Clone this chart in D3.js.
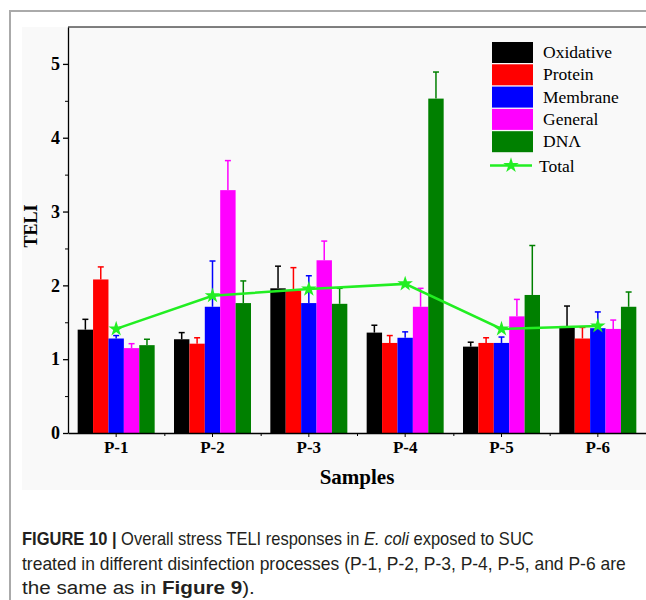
<!DOCTYPE html>
<html>
<head>
<meta charset="utf-8">
<script src="https://cdn.jsdelivr.net/npm/d3@7"></script>
<style>
  body { margin: 0; background: #fff; }
  svg { display: block; }
</style>
</head>
<body>
<svg></svg>
<script>
// values
const samples = ['P-1', 'P-2', 'P-3', 'P-4', 'P-5', 'P-6']
const seriesNames = ['Oxidative', 'Protein', 'Membrane', 'General', 'DNA']
const seriesColors = ['#000000', '#ff0000', '#0000ff', '#ff00ff', '#008000']

const oxidative = [1.40, 1.27, 1.96, 1.36, 1.17, 1.45]
const oxidativeErr = [0.14, 0.09, 0.30, 0.10, 0.06, 0.27]
const protein = [2.08, 1.21, 1.93, 1.22, 1.22, 1.28]
const proteinErr = [0.17, 0.08, 0.31, 0.10, 0.07, 0.15]
const membrane = [1.28, 1.71, 1.76, 1.29, 1.22, 1.42]
const membraneErr = [0.04, 0.62, 0.37, 0.08, 0.08, 0.22]
const general = [1.15, 3.29, 2.34, 1.71, 1.58, 1.41]
const generalErr = [0.06, 0.40, 0.26, 0.25, 0.23, 0.12]
const dna = [1.19, 1.76, 1.75, 4.53, 1.87, 1.71]
const dnaErr = [0.08, 0.30, 0.21, 0.36, 0.67, 0.20]
const total = [1.41, 1.86, 1.95, 2.02, 1.41, 1.45]

const yTicks = [0, 1, 2, 3, 4, 5]
const yMinorTicks = [0.5, 1.5, 2.5, 3.5, 4.5]

const width = 646
const height = 600

const svg = d3.select('svg').attr('width', width).attr('height', height)

const serifFont = '"Liberation Serif", "Times New Roman", serif'

// frame + image background
svg.append('rect')
  .attr('x', 22).attr('y', 27).attr('width', width - 22).attr('height', 463)
  .attr('fill', '#f9f9f9')
svg.append('path')
  .attr('d', `M10,${height} V11 H${width}`)
  .attr('fill', 'none').attr('stroke', '#aaaaaa').attr('stroke-width', 2)

const plot = { left: 68, right: 646, top: 27, bottom: 433 }

const xScale = d3.scaleBand()
  .domain(samples)
  .range([plot.left, plot.right])
  .padding(0)

const xIdx = d3.scaleLinear()
  .domain([-0.5, samples.length - 0.5])
  .range([plot.left, plot.right])

const groupWidth = 77
const inner = d3.scaleBand()
  .domain(seriesNames)
  .range([0, groupWidth])
  .padding(0)

const yScale = d3.scaleLinear()
  .domain([0, 5.5])
  .range([plot.bottom, plot.top])

const data = [
  { name: 'Oxidative', vals: oxidative, errs: oxidativeErr },
  { name: 'Protein', vals: protein, errs: proteinErr },
  { name: 'Membrane', vals: membrane, errs: membraneErr },
  { name: 'General', vals: general, errs: generalErr },
  { name: 'DNA', vals: dna, errs: dnaErr }
]

const bars = []
data.forEach((s, si) => {
  s.vals.forEach((v, i) => {
    bars.push({ sample: samples[i], series: s.name, color: seriesColors[si], v: v, e: s.errs[i] })
  })
})

const groupX = d => xScale(d.sample) + (xScale.bandwidth() - groupWidth) / 2 + inner(d.series)

// error bars (upper half only)
const errG = svg.append('g')
errG.selectAll('line.err')
  .data(bars)
  .enter().append('line')
    .attr('x1', d => groupX(d) + inner.bandwidth() / 2)
    .attr('x2', d => groupX(d) + inner.bandwidth() / 2)
    .attr('y1', d => yScale(d.v))
    .attr('y2', d => yScale(d.v + d.e))
    .attr('stroke', d => d.color)
    .attr('stroke-width', 1.5)
errG.selectAll('line.cap')
  .data(bars)
  .enter().append('line')
    .attr('x1', d => groupX(d) + inner.bandwidth() / 2 - 3)
    .attr('x2', d => groupX(d) + inner.bandwidth() / 2 + 3)
    .attr('y1', d => yScale(d.v + d.e))
    .attr('y2', d => yScale(d.v + d.e))
    .attr('stroke', d => d.color)
    .attr('stroke-width', 1.5)

svg.append('g').selectAll('rect')
  .data(bars)
  .enter().append('rect')
    .attr('x', d => groupX(d))
    .attr('y', d => yScale(d.v))
    .attr('width', inner.bandwidth())
    .attr('height', d => yScale(0) - yScale(d.v))
    .attr('fill', d => d.color)

// total line with stars
const totalPts = total.map((v, i) => ({ sample: samples[i], v: v }))
const line = d3.line()
  .x(d => xScale(d.sample) + xScale.bandwidth() / 2)
  .y(d => yScale(d.v))
svg.append('path')
  .datum(totalPts)
  .attr('d', line)
  .attr('fill', 'none')
  .attr('stroke', '#22ee22')
  .attr('stroke-width', 2.5)
svg.append('g').selectAll('path')
  .data(totalPts)
  .enter().append('path')
    .attr('d', d3.symbol(d3.symbolStar).size(75))
    .attr('transform', d => `translate(${xScale(d.sample) + xScale.bandwidth() / 2},${yScale(d.v)})`)
    .attr('fill', '#22ee22')

// axes
const yAxis = d3.axisLeft(yScale).tickValues(yTicks).tickFormat(d3.format('d'))
  .tickSize(5).tickSizeOuter(0).tickPadding(3)
const yAxisG = svg.append('g')
  .attr('transform', `translate(${plot.left},0)`)
  .call(yAxis)
yAxisG.selectAll('text')
  .attr('font-family', serifFont).attr('font-size', 18).attr('font-weight', 'bold').attr('fill', '#000')
yAxisG.select('.domain').attr('stroke-width', 1.3)
yAxisG.selectAll('.tick line').attr('stroke-width', 1.3)

svg.append('g')
  .attr('transform', `translate(${plot.left},0)`)
  .call(d3.axisLeft(yScale).tickValues(yMinorTicks).tickSize(3).tickFormat(''))
  .call(g => g.select('.domain').remove())

const xAxis = d3.axisBottom(xScale).tickSize(4).tickSizeOuter(0).tickPadding(4)
const xAxisG = svg.append('g')
  .attr('transform', `translate(0,${plot.bottom})`)
  .call(xAxis)
xAxisG.selectAll('text')
  .attr('font-family', serifFont).attr('font-size', 17).attr('font-weight', 'bold').attr('fill', '#000')
xAxisG.select('.domain').attr('stroke-width', 1.3)

svg.append('g')
  .attr('transform', `translate(0,${plot.bottom})`)
  .call(d3.axisBottom(xIdx).tickValues([0.5, 1.5, 2.5, 3.5, 4.5]).tickSize(3).tickFormat(''))
  .call(g => g.select('.domain').remove())

svg.append('line')
  .attr('x1', plot.left).attr('x2', plot.right)
  .attr('y1', plot.top).attr('y2', plot.top)
  .attr('stroke', '#000').attr('stroke-width', 1)

// axis titles
svg.append('text')
  .attr('transform', 'translate(37,226) rotate(-90)')
  .attr('text-anchor', 'middle')
  .attr('font-family', serifFont).attr('font-size', 18).attr('font-weight', 'bold')
  .text('TELI')

svg.append('text')
  .attr('x', (plot.left + plot.right) / 2).attr('y', 484)
  .attr('text-anchor', 'middle')
  .attr('font-family', serifFont).attr('font-size', 21).attr('font-weight', 'bold')
  .text('Samples')

// legend
const legend = svg.append('g').attr('transform', 'translate(492,42)')
const legRow = 22.3
legend.selectAll('rect')
  .data(seriesNames)
  .enter().append('rect')
    .attr('x', 0).attr('y', (d, i) => i * legRow)
    .attr('width', 41).attr('height', 21)
    .attr('fill', (d, i) => seriesColors[i])
legend.selectAll('text.lab')
  .data(seriesNames)
  .enter().append('text')
    .attr('x', 51).attr('y', (d, i) => i * legRow + 16)
    .attr('font-family', serifFont).attr('font-size', 17.5)
    .text(d => d === 'DNA' ? 'DNΛ' : d)
const totY = 5 * legRow + 12
legend.append('line')
  .attr('x1', -2).attr('x2', 40).attr('y1', totY).attr('y2', totY)
  .attr('stroke', '#22ee22').attr('stroke-width', 2.5)
legend.append('path')
  .attr('d', d3.symbol(d3.symbolStar).size(75))
  .attr('transform', `translate(19,${totY})`)
  .attr('fill', '#22ee22')
legend.append('text')
  .attr('x', 47).attr('y', totY + 6)
  .attr('font-family', serifFont).attr('font-size', 17.5)
  .text('Total')

// caption (narrow sans: squeeze each line horizontally to the width it has in the figure)
const capFont = '"Liberation Sans", Arial, sans-serif'
const cap = svg.append('g')
  .attr('font-family', capFont).attr('font-size', 18).attr('fill', '#231f20')

const fitLine = (t, y, target) => {
  const w = t.node().getComputedTextLength()
  t.attr('transform', `translate(22,${y}) scale(${target / w},1)`)
}

const cap1 = cap.append('text')
cap1.append('tspan').attr('font-weight', 'bold').text('FIGURE 10 | ')
cap1.append('tspan').text('Overall stress TELI responses in ')
cap1.append('tspan').attr('font-style', 'italic').text('E. coli')
cap1.append('tspan').text(' exposed to SUC')
fitLine(cap1, 545, 512)

const cap2 = cap.append('text')
  .text('treated in different disinfection processes (P-1, P-2, P-3, P-4, P-5, and P-6 are')
fitLine(cap2, 570, 604)

const cap3 = cap.append('text')
cap3.append('tspan').text('the same as in ')
cap3.append('tspan').attr('font-weight', 'bold').text('Figure 9')
cap3.append('tspan').text(').')
fitLine(cap3, 594, 233)
</script>
</body>
</html>
